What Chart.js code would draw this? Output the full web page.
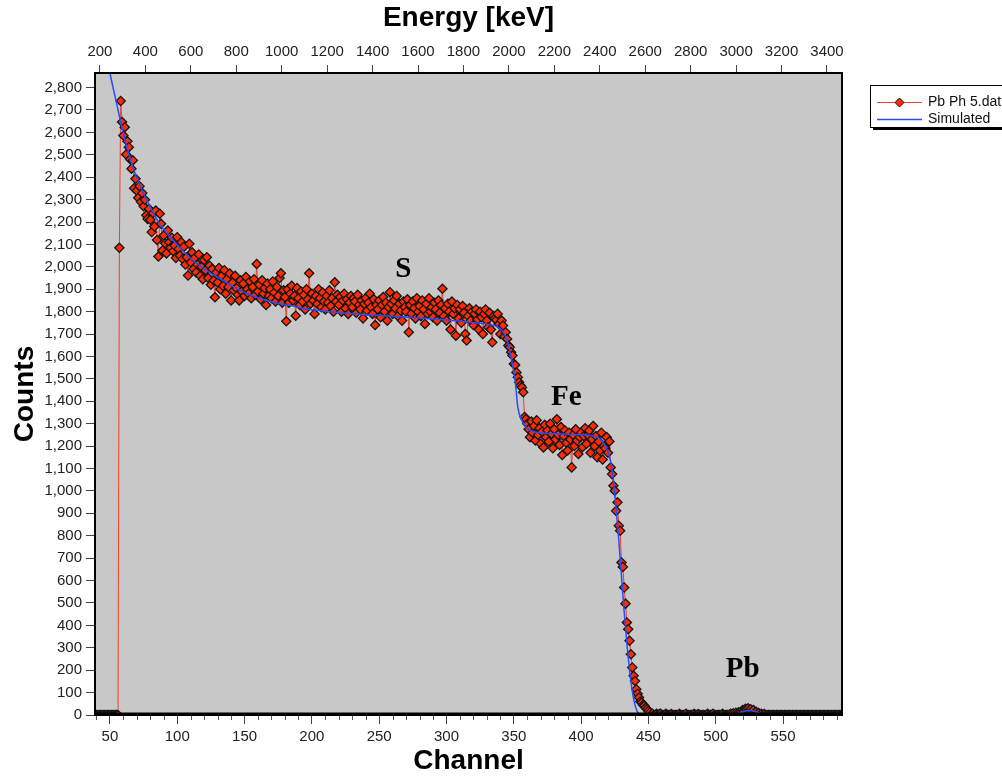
<!DOCTYPE html>
<html><head><meta charset="utf-8">
<script src="https://cdn.jsdelivr.net/npm/chart.js@4"></script>
<style>html,body{margin:0;padding:0;background:#fff}#wrap{width:1002px;height:778px;position:relative}</style>
</head><body><div id="wrap"><canvas id="c" width="1002" height="778"></canvas></div>
<script>
// ---------- data ----------
const firstChannel = 38;
const measuredCounts = [
0,0,0,0,0,0,0,0,0,0,0,0,0,0,0,0,0,0,
0,2085,2740,2646,
2586,2623,2501,2560,2534,2480,2438,2475,2351,2393,
2340,2308,2360,2290,2329,2270,2299,2230,2214,2259,
2210,2155,2240,2180,2251,2120,2046,2237,2192,2073,
2140,2105,2060,2162,2110,2085,2130,2070,2095,2040,
2132,2080,2050,2110,2035,2090,2010,2043,1961,2103,
2020,2065,1990,2040,1975,2010,2055,1960,2000,1945,
2030,1985,2043,1950,2005,1920,1990,1940,1864,1975,
1930,1995,1900,1960,1915,1985,1880,1945,1910,1970,
1850,1930,1895,1960,1905,1875,1850,1940,1890,1925,
1870,1955,1900,1880,1935,1860,1910,1945,1875,2013,
1890,1920,1855,1940,1880,1905,1830,1925,1870,1900,
1860,1935,1885,1845,1910,1870,1950,1971,1840,1895,
1865,1757,1900,1840,1880,1915,1850,1870,1782,1905,
1860,1830,1890,1845,1875,1810,1900,1855,1971,1835,
1880,1850,1790,1870,1835,1900,1860,1820,1885,1845,
1810,1870,1840,1895,1825,1860,1800,1931,1845,1875,
1830,1865,1800,1850,1880,1815,1855,1790,1840,1870,
1820,1860,1845,1795,1875,1830,1810,1850,1770,1835,
1860,1805,1840,1880,1820,1790,1855,1740,1830,1810,
1850,1775,1830,1865,1800,1840,1760,1820,1887,1835,
1790,1850,1815,1870,1780,1835,1805,1760,1845,1820,
1800,1855,1708,1830,1790,1845,1815,1770,1860,1800,
1825,1780,1850,1810,1745,1835,1790,1860,1800,1820,
1775,1840,1810,1760,1850,1795,1830,1902,1780,1815,
1760,1835,1800,1720,1845,1790,1815,1693,1830,1770,
1810,1750,1825,1795,1700,1671,1780,1815,1760,1800,
1740,1790,1810,1765,1720,1800,1775,1700,1790,1810,
1760,1730,1795,1720,1663,1780,1770,1763,1790,1745,
1700,1760,1738,1690,1708,1678,1649,1641,1619,1604,
1567,1562,1529,1507,1485,1470,1462,1440,1330,1320,
1300,1275,1240,1310,1260,1290,1225,1315,1250,1280,
1210,1265,1194,1295,1240,1270,1220,1300,1255,1190,
1275,1230,1320,1250,1205,1285,1160,1245,1270,1215,
1180,1260,1230,1105,1250,1200,1275,1225,1165,1240,
1260,1195,1245,1280,1210,1250,1269,1170,1230,1290,
1200,1245,1150,1220,1180,1260,1140,1200,1190,1240,
1170,1221,1105,1075,1023,1001,911,949,845,822,
681,661,569,497,413,383,331,271,212,175,
152,115,95,78,60,55,45,41,32,26,
18,10,0,6,0,0,5,0,4,6,
0,0,0,5,0,0,0,4,0,0,
0,0,0,5,0,0,0,0,6,0,
0,0,0,0,5,0,0,4,0,0,
0,0,0,0,5,0,0,0,6,0,
0,0,0,0,0,5,0,0,0,0,
0,6,0,8,0,10,4,12,8,15,
22,18,28,25,30,20,26,15,22,10,
14,6,9,0,5,0,4,0,0,0,
0,0,0,0,0,0,0,0,0,0,
0,0,0,0,0,0,0,0,0,0,
0,0,0,0,0,0,0,0,0,0,
0,0,0,0,0,0,0,0,0,0,
0,0,0,0,0,0,0,0,0,0,
0,0,0,0,0
];
const simChannels = [44,48,50,55,60,67,75,80,87,97,109,122,134,147,159,171,184,196,218,238,263,288,312,332,337,340,343,345,348,351,353,356,359,362,368,374,387,399,408,412,414,416,418,420,422,424,426,428,430,432,434,436,438,440,442,445,460,512,516,520,525,530,534,540,594];
const simCounts   = [3080,2930,2865,2728,2594,2445,2326,2266,2192,2117,2043,1983,1939,1894,1864,1842,1827,1812,1797,1787,1778,1768,1756,1742,1735,1723,1700,1671,1596,1492,1373,1314,1285,1269,1261,1257,1254,1251,1246,1239,1232,1217,1200,1172,1130,1046,920,780,620,460,320,200,108,45,12,0,0,0,5,15,20,15,3,0,0];
const channelTicks = [50,100,150,200,250,300,350,400,450,500,550];
const energyTicks = [200,400,600,800,1000,1200,1400,1600,1800,2000,2200,2400,2600,2800,3000,3200,3400];
const countTicks = [0,100,200,300,400,500,600,700,800,900,1000,1100,1200,1300,1400,1500,1600,1700,1800,1900,2000,2100,2200,2300,2400,2500,2600,2700,2800];
const seriesNames = ['Pb Ph 5.dat','Simulated'];
const peakLabels = ['S','Fe','Pb'];
const peakLabelChannels = [268,389,520];
const peakLabelCounts = [1988,1416,205];
const channelMin = 38.9, channelMax = 593.8, countMax = 2865;
const energyGain = 5.925, energyOffset = -52.2;

// ---------- build ----------
const SANS = "'Liberation Sans', Arial, sans-serif";
const measuredPts = measuredCounts.map((v,i)=>({x:firstChannel+i, y:v}));
const simPts = simChannels.map((c,i)=>({x:c, y:simCounts[i]}));
const RED_FILL = '#FF2A00', RED_LINE = '#F0402A', BLUE = '#1F4FFF';

const bgPlugin = {
  id:'bg',
  beforeDraw(chart){
    const {ctx, chartArea:a} = chart;
    ctx.save(); ctx.fillStyle='#C8C8C8';
    ctx.fillRect(a.left, a.top, a.right-a.left, a.bottom-a.top);
    ctx.restore();
  }
};
const framePlugin = {
  id:'frame',
  afterDatasetsDraw(chart){
    const {ctx, chartArea:a} = chart;
    ctx.save();
    const xs = chart.scales.x, ys = chart.scales.y;
    // peak labels
    ctx.fillStyle='#000';
    ctx.font = "bold 29px 'Liberation Serif', 'Times New Roman', serif";
    ctx.textAlign='center'; ctx.textBaseline='middle';
    peakLabels.forEach((t,i)=>{
      ctx.fillText(t, xs.getPixelForValue(peakLabelChannels[i]), ys.getPixelForValue(peakLabelCounts[i]));
    });
    // frame
    ctx.strokeStyle='#000'; ctx.lineWidth=2;
    ctx.strokeRect(a.left, a.top, a.right-a.left, a.bottom-a.top);
    // heavy baseline band
    ctx.fillStyle='#000';
    ctx.fillRect(a.left, a.bottom-2.5, a.right-a.left, 3.5);
    // minor ticks on channel axis
    ctx.strokeStyle='#555'; ctx.lineWidth=1;
    for(let c=40;c<=590;c+=10){
      if(c%50===0) continue;
      const px = Math.round(xs.getPixelForValue(c))+0.5;
      ctx.beginPath(); ctx.moveTo(px, a.bottom+1); ctx.lineTo(px, a.bottom+5); ctx.stroke();
    }
    ctx.restore();
  },
  afterDraw(chart){
    const ctx = chart.ctx;
    ctx.save();
    const bx=870, by=85, bw=160, bh=42;
    ctx.fillStyle='#000'; ctx.fillRect(bx+3, by+3, bw, bh);
    ctx.fillStyle='#fff'; ctx.fillRect(bx, by, bw, bh);
    ctx.strokeStyle='#000'; ctx.lineWidth=1; ctx.strokeRect(bx+0.5, by+0.5, bw, bh);
    // series 1
    ctx.strokeStyle=RED_LINE; ctx.lineWidth=1;
    ctx.beginPath(); ctx.moveTo(877, 102.5); ctx.lineTo(922, 102.5); ctx.stroke();
    ctx.beginPath(); ctx.moveTo(899.5,98); ctx.lineTo(904,102.5); ctx.lineTo(899.5,107); ctx.lineTo(895,102.5); ctx.closePath();
    ctx.fillStyle=RED_FILL; ctx.fill(); ctx.strokeStyle='#111'; ctx.stroke();
    // series 2
    ctx.strokeStyle=BLUE; ctx.lineWidth=1.5;
    ctx.beginPath(); ctx.moveTo(877, 119.5); ctx.lineTo(922, 119.5); ctx.stroke();
    ctx.fillStyle='#111'; ctx.font="14px "+SANS; ctx.textAlign='left'; ctx.textBaseline='middle';
    ctx.fillText(seriesNames[0], 928, 102);
    ctx.fillText(seriesNames[1], 928, 119.5);
    ctx.restore();
  }
};

const tickFont = {family:SANS, size:15};
const titleFont = {family:SANS, size:28, weight:'bold', lineHeight:1.2};

new Chart(document.getElementById('c'), {
  type:'line',
  data:{ datasets:[
    { label:seriesNames[0], data:measuredPts, borderColor:RED_LINE, borderWidth:1,
      pointStyle:'rectRot', pointRadius:4.6, pointBackgroundColor:RED_FILL, pointBorderColor:'#151515', pointBorderWidth:1.3,
      order:2 },
    { label:seriesNames[1], data:simPts, borderColor:BLUE, borderWidth:1.5, pointRadius:0,
      cubicInterpolationMode:'monotone', order:1 }
  ]},
  options:{
    responsive:false, animation:false, devicePixelRatio:1,
    layout:{padding:{right:160}},
    plugins:{legend:{display:false}, tooltip:{enabled:false}},
    scales:{
      x:{ type:'linear', position:'bottom', min:channelMin, max:channelMax,
        afterBuildTicks(s){ s.ticks = channelTicks.map(v=>({value:v})); },
        afterFit(s){ s.height = 63; },
        ticks:{ font:tickFont, color:'#222', padding:4, maxRotation:0, autoSkip:false, callback:v=>String(v) },
        grid:{ drawOnChartArea:false, tickLength:9, color:'#444', tickColor:'#444' },
        border:{ display:false },
        title:{ display:true, text:'Channel', font:titleFont, color:'#000', padding:{top:0,bottom:0} } },
      xTop:{ type:'linear', position:'top', min:energyGain*channelMin+energyOffset, max:energyGain*channelMax+energyOffset,
        afterBuildTicks(s){ s.ticks = energyTicks.map(v=>({value:v})); },
        afterFit(s){ s.height = 73; },
        ticks:{ font:tickFont, color:'#222', padding:4, maxRotation:0, autoSkip:false, callback:v=>String(v) },
        grid:{ drawOnChartArea:false, tickLength:8, color:'#444', tickColor:'#444' },
        border:{ display:false },
        title:{ display:true, text:'Energy [keV]', font:titleFont, color:'#000', padding:{top:1,bottom:0} } },
      y:{ type:'linear', position:'left', min:0, max:countMax,
        afterBuildTicks(s){ s.ticks = countTicks.map(v=>({value:v})); },
        afterFit(s){ s.width = 95; },
        ticks:{ font:tickFont, color:'#222', padding:4, autoSkip:false, callback:v=>v.toLocaleString('en-US') },
        grid:{ drawOnChartArea:false, tickLength:9, color:'#444', tickColor:'#444' },
        border:{ display:false },
        title:{ display:true, text:'Counts', font:titleFont, color:'#000', padding:{top:8,bottom:0} } }
    }
  },
  plugins:[bgPlugin, framePlugin]
});
</script></body></html>
